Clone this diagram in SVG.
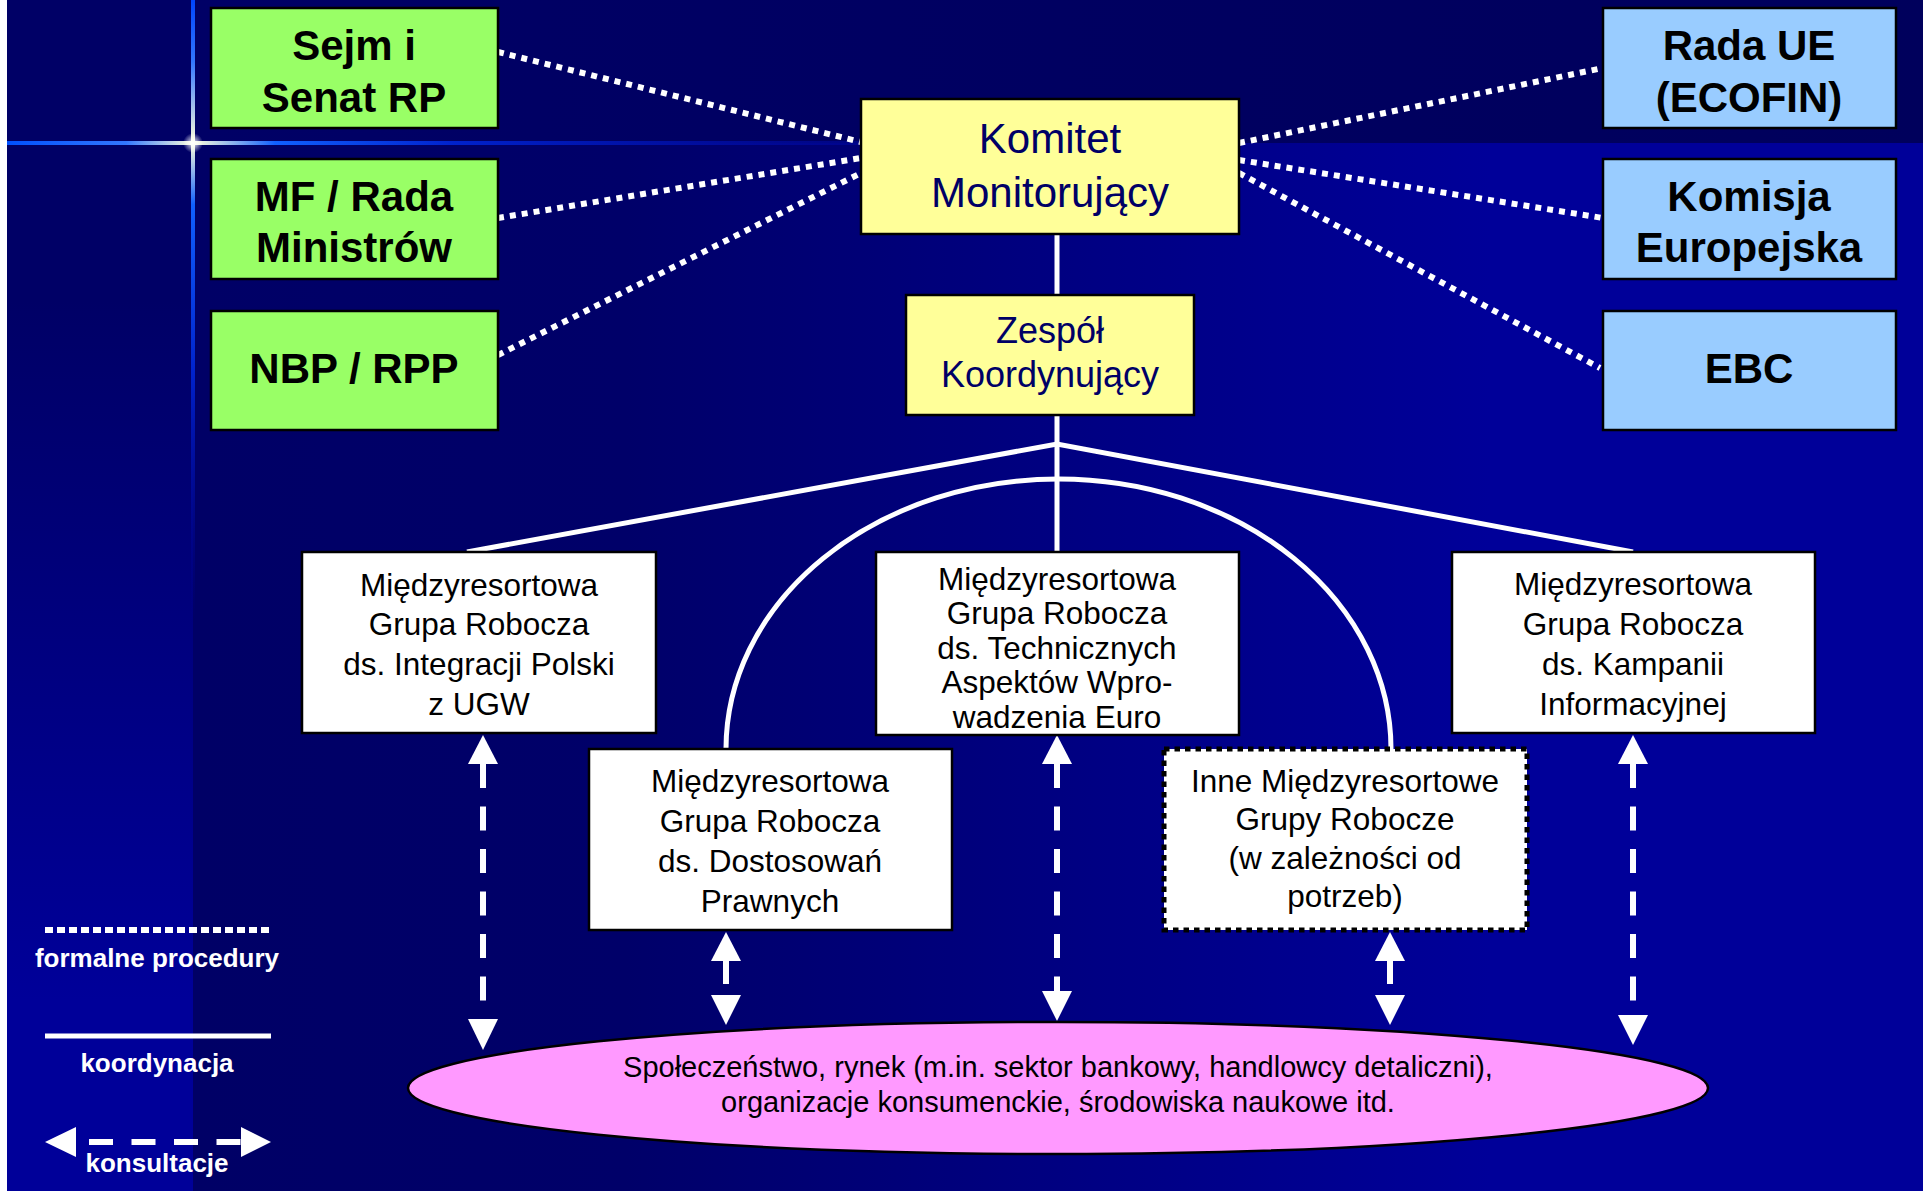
<svg xmlns="http://www.w3.org/2000/svg" width="1930" height="1191" viewBox="0 0 1930 1191">
<defs>
<style>
.gbox{fill:#99FF66;stroke:#000;stroke-width:2.5}
.bbox{fill:#99CCFF;stroke:#000;stroke-width:2.5}
.ybox{fill:#FFFF99;stroke:#000;stroke-width:2.5}
.wbox{fill:#FFFFFF;stroke:#000;stroke-width:2.5}
.dbox{fill:#FFFFFF;stroke:#000;stroke-width:5;stroke-dasharray:5.5 5}
.big{font-family:"Liberation Sans",Arial,sans-serif;font-weight:bold;font-size:42px;fill:#000;text-anchor:middle}
.mid{font-family:"Liberation Sans",Arial,sans-serif;font-size:42px;fill:#000066;text-anchor:middle}
.mid2{font-family:"Liberation Sans",Arial,sans-serif;font-size:36px;fill:#000066;text-anchor:middle}
.sm{font-family:"Liberation Sans",Arial,sans-serif;font-size:31.5px;fill:#000;text-anchor:middle}
.el{font-family:"Liberation Sans",Arial,sans-serif;font-size:29px;fill:#000;text-anchor:middle}
.leg{font-family:"Liberation Sans",Arial,sans-serif;font-weight:bold;font-size:26px;fill:#fff;text-anchor:middle}
.dot{stroke:#fff;stroke-width:6;stroke-dasharray:6 6;fill:none}
.sol{stroke:#fff;stroke-width:5;fill:none}
.dsh{stroke:#fff;stroke-width:6;stroke-dasharray:24 18.5;fill:none}
.shaft{stroke:#fff;stroke-width:6;fill:none}
.head{fill:#fff}
</style>
<linearGradient id="gMain" gradientUnits="userSpaceOnUse" x1="193" y1="0" x2="1923" y2="0">
<stop offset="0" stop-color="#000066"/>
<stop offset="0.25" stop-color="#000069"/>
<stop offset="0.75" stop-color="#000099"/>
<stop offset="1" stop-color="#000099"/>
</linearGradient>
<linearGradient id="gTop" gradientUnits="userSpaceOnUse" x1="193" y1="0" x2="1923" y2="0">
<stop offset="0" stop-color="#000066"/>
<stop offset="1" stop-color="#00005c"/>
</linearGradient>
<linearGradient id="gLeft" gradientUnits="userSpaceOnUse" x1="0" y1="300" x2="0" y2="1000">
<stop offset="0" stop-color="#000066"/>
<stop offset="1" stop-color="#000099"/>
</linearGradient>
<linearGradient id="gH" gradientUnits="userSpaceOnUse" x1="7" y1="0" x2="1000" y2="0">
<stop offset="0" stop-color="#0050ff"/>
<stop offset="0.12" stop-color="#3377ff"/>
<stop offset="0.188" stop-color="#ffffdd"/>
<stop offset="0.27" stop-color="#1060ff"/>
<stop offset="0.45" stop-color="#0022cc"/>
<stop offset="1" stop-color="#000099" stop-opacity="0.3"/>
</linearGradient>
<linearGradient id="gV" gradientUnits="userSpaceOnUse" x1="0" y1="0" x2="0" y2="620">
<stop offset="0" stop-color="#0044ff"/>
<stop offset="0.1" stop-color="#3377ff"/>
<stop offset="0.23" stop-color="#ffffdd"/>
<stop offset="0.33" stop-color="#1060ff"/>
<stop offset="0.6" stop-color="#0022cc"/>
<stop offset="1" stop-color="#000099" stop-opacity="0"/>
</linearGradient>
<radialGradient id="gGlow">
<stop offset="0" stop-color="#ffffff"/>
<stop offset="1" stop-color="#ffffff" stop-opacity="0"/>
</radialGradient>
</defs>

<g id="background">
<rect x="0" y="0" width="1930" height="1191" fill="#ffffff"/>
<rect x="7" y="0" width="1916" height="1191" fill="#000066"/>
<rect x="193" y="0" width="1730" height="143" fill="url(#gTop)"/>
<rect x="193" y="143" width="1730" height="1048" fill="url(#gMain)"/>
<rect x="7" y="143" width="186" height="1048" fill="url(#gLeft)"/>
<rect x="7" y="141" width="993" height="4" fill="url(#gH)"/>
<rect x="191" y="0" width="4" height="620" fill="url(#gV)"/>
<circle cx="193" cy="143" r="10" fill="url(#gGlow)"/>
</g>

<g id="connectors">
<line class="dot" x1="498" y1="52" x2="861" y2="142"/>
<line class="dot" x1="498" y1="218" x2="861" y2="158"/>
<line class="dot" x1="498" y1="355" x2="861" y2="173"/>
<line class="dot" x1="1239" y1="143" x2="1603" y2="68"/>
<line class="dot" x1="1239" y1="160" x2="1603" y2="218"/>
<line class="dot" x1="1239" y1="173" x2="1600" y2="368"/>
<line class="sol" x1="1057" y1="234" x2="1057" y2="295"/>
<line class="sol" x1="1057" y1="415" x2="1057" y2="552"/>
<polyline class="sol" points="467,552 1057,444 1633,552"/>
<path class="sol" stroke-width="4" d="M726,749 A332.5,270 0 0 1 1391,749"/>
<line class="dsh" x1="483" y1="764" x2="483" y2="1019"/>
<polygon class="head" points="483,735 498,764 468,764"/>
<polygon class="head" points="483,1050 498,1019 468,1019"/>
<line class="shaft" x1="726" y1="961" x2="726" y2="984"/>
<polygon class="head" points="726,932 741,961 711,961"/>
<polygon class="head" points="726,1025 741,995 711,995"/>
<line class="dsh" x1="1057" y1="764" x2="1057" y2="991"/>
<polygon class="head" points="1057,735 1072,764 1042,764"/>
<polygon class="head" points="1057,1021 1072,991 1042,991"/>
<line class="shaft" x1="1390" y1="961" x2="1390" y2="984"/>
<polygon class="head" points="1390,932 1405,961 1375,961"/>
<polygon class="head" points="1390,1025 1405,995 1375,995"/>
<line class="dsh" x1="1633" y1="764" x2="1633" y2="1015"/>
<polygon class="head" points="1633,735 1648,764 1618,764"/>
<polygon class="head" points="1633,1045 1648,1015 1618,1015"/>
</g>

<g id="sejm">
<rect class="gbox" x="211" y="8" width="287" height="120"/>
<text class="big" x="354" y="60">Sejm i</text>
<text class="big" x="354" y="112">Senat RP</text>
</g>
<g id="mf">
<rect class="gbox" x="211" y="159" width="287" height="120"/>
<text class="big" x="354" y="211">MF / Rada</text>
<text class="big" x="354" y="262">Ministrów</text>
</g>
<g id="nbp">
<rect class="gbox" x="211" y="311" width="287" height="119"/>
<text class="big" x="354" y="383">NBP / RPP</text>
</g>

<g id="rada">
<rect class="bbox" x="1603" y="8" width="293" height="120"/>
<text class="big" x="1749" y="60">Rada UE</text>
<text class="big" x="1749" y="112">(ECOFIN)</text>
</g>
<g id="komisja">
<rect class="bbox" x="1603" y="159" width="293" height="120"/>
<text class="big" x="1749" y="211">Komisja</text>
<text class="big" x="1749" y="262">Europejska</text>
</g>
<g id="ebc">
<rect class="bbox" x="1603" y="311" width="293" height="119"/>
<text class="big" x="1749" y="383">EBC</text>
</g>

<g id="komitet">
<rect class="ybox" x="861" y="99" width="378" height="135"/>
<text class="mid" x="1050" y="153">Komitet</text>
<text class="mid" x="1050" y="207">Monitorujący</text>
</g>
<g id="zespol">
<rect class="ybox" x="906" y="295" width="288" height="120"/>
<text class="mid2" x="1050" y="343">Zespół</text>
<text class="mid2" x="1050" y="387">Koordynujący</text>
</g>

<g id="grupa-ugw">
<rect class="wbox" x="302" y="552" width="354" height="181"/>
<text class="sm" x="479" y="596">Międzyresortowa</text>
<text class="sm" x="479" y="635">Grupa Robocza</text>
<text class="sm" x="479" y="675">ds. Integracji Polski</text>
<text class="sm" x="479" y="715">z UGW</text>
</g>
<g id="grupa-tech">
<rect class="wbox" x="876" y="552" width="363" height="183"/>
<text class="sm" x="1057" y="590">Międzyresortowa</text>
<text class="sm" x="1057" y="624">Grupa Robocza</text>
<text class="sm" x="1057" y="659">ds. Technicznych</text>
<text class="sm" x="1057" y="693">Aspektów Wpro-</text>
<text class="sm" x="1057" y="728">wadzenia Euro</text>
</g>
<g id="grupa-kampania">
<rect class="wbox" x="1452" y="552" width="363" height="181"/>
<text class="sm" x="1633" y="595">Międzyresortowa</text>
<text class="sm" x="1633" y="635">Grupa Robocza</text>
<text class="sm" x="1633" y="675">ds. Kampanii</text>
<text class="sm" x="1633" y="715">Informacyjnej</text>
</g>
<g id="grupa-prawne">
<rect class="wbox" x="589" y="749" width="363" height="181"/>
<text class="sm" x="770" y="792">Międzyresortowa</text>
<text class="sm" x="770" y="832">Grupa Robocza</text>
<text class="sm" x="770" y="872">ds. Dostosowań</text>
<text class="sm" x="770" y="912">Prawnych</text>
</g>
<g id="grupy-inne">
<rect class="dbox" x="1164" y="749" width="363" height="181"/>
<text class="sm" x="1345" y="792">Inne Międzyresortowe</text>
<text class="sm" x="1345" y="830">Grupy Robocze</text>
<text class="sm" x="1345" y="869">(w zależności od</text>
<text class="sm" x="1345" y="907">potrzeb)</text>
</g>

<g id="spoleczenstwo">
<ellipse cx="1058" cy="1088" rx="650" ry="66" fill="#FF99FF" stroke="#000" stroke-width="2.5"/>
<text class="el" x="1058" y="1077">Społeczeństwo, rynek (m.in. sektor bankowy, handlowcy detaliczni),</text>
<text class="el" x="1058" y="1112">organizacje konsumenckie, środowiska naukowe itd.</text>
</g>

<g id="legend">
<line stroke="#fff" stroke-width="6" stroke-dasharray="8 4" x1="45" y1="930" x2="270" y2="930"/>
<text class="leg" x="157" y="967">formalne procedury</text>
<line class="sol" stroke-width="6" x1="45" y1="1036" x2="271" y2="1036"/>
<text class="leg" x="157" y="1072">koordynacja</text>
<line class="dsh" x1="89" y1="1142" x2="241" y2="1142" stroke-dasharray="25 18"/>
<polygon class="head" points="45,1142 76,1127 76,1157"/>
<polygon class="head" points="271,1142 241,1127 241,1157"/>
<text class="leg" x="157" y="1172">konsultacje</text>
</g>
</svg>
